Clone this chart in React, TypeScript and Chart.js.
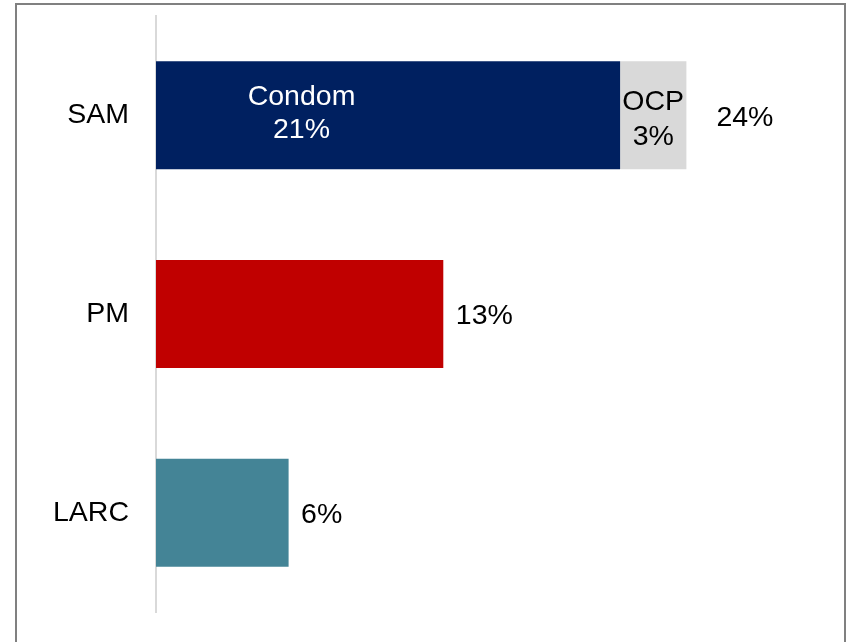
import React, { useEffect, useRef } from "react";
import { Chart, registerables } from "chart.js";

Chart.register(...registerables);

const categories = ["SAM", "PM", "LARC"];
const primaryValues = [21, 13, 6];
const ocpValues = [3, null, null];
const primaryNames = ["Condom", null, null];
const ocpNames = ["OCP", null, null];
const totals = [24, 13, 6];
const primaryColors = ["#002060", "#C00000", "#448496"];
const ocpColor = "#D9D9D9";

const FONT = "Liberation Sans, Arial, sans-serif";
const FS = 28.5;

const labelPlugin = {
  id: "barLabels",
  afterDatasetsDraw(chart: any) {
    const ctx = chart.ctx;
    const m0 = chart.getDatasetMeta(0);
    const m1 = chart.getDatasetMeta(1);
    ctx.save();
    ctx.font = `${FS}px ${FONT}`;
    ctx.textBaseline = "middle";
    categories.forEach((_, i) => {
      const b0 = m0.data[i];
      const b1 = m1.data[i];
      const y = b0.y + 2;
      let end = b0.x;
      if (primaryNames[i]) {
        const cx = b0.base + (b0.x - b0.base) * 0.3136;
        ctx.fillStyle = "#FFFFFF";
        ctx.textAlign = "center";
        ctx.fillText(primaryNames[i], cx, y - 20);
        ctx.fillText(primaryValues[i] + "%", cx, y + 13);
      }
      const hasOcp = ocpValues[i] != null;
      if (hasOcp && b1) {
        end = b1.x;
        const cx = (b1.base + b1.x) / 2;
        ctx.fillStyle = "#000000";
        ctx.textAlign = "center";
        ctx.fillText(ocpNames[i] as string, cx, y - 15);
        ctx.fillText(ocpValues[i] + "%", cx, y + 19.5);
      }
      ctx.fillStyle = "#000000";
      ctx.textAlign = "left";
      ctx.fillText(totals[i] + "%", end + (hasOcp ? 30 : 12.5), y + 0.5);
    });
    ctx.restore();
  },
};

export default function App() {
  const ref = useRef<HTMLCanvasElement>(null);
  useEffect(() => {
    document.body.style.overflow = "hidden";
    const chart = new Chart(ref.current as HTMLCanvasElement, {
      type: "bar",
      data: {
        labels: categories,
        datasets: [
          {
            label: "Primary",
            data: primaryValues,
            backgroundColor: primaryColors,
            borderWidth: 0,
            barPercentage: 0.5436,
            categoryPercentage: 1,
          },
          {
            label: "OCP",
            data: ocpValues as any,
            backgroundColor: ocpColor,
            borderWidth: 0,
            barPercentage: 0.5436,
            categoryPercentage: 1,
          },
        ],
      },
      options: {
        indexAxis: "y",
        responsive: false,
        animation: false,
        devicePixelRatio: 1,
        layout: { padding: { left: 0, top: 16, bottom: 30, right: 27 } },
        plugins: {
          legend: { display: false },
          tooltip: { enabled: false },
        },
        scales: {
          x: {
            stacked: true,
            display: false,
            min: 0,
            max: 30,
          },
          y: {
            stacked: true,
            grid: { display: false, drawTicks: false },
            border: { display: true, color: "#D9D9D9", width: 2 },
            ticks: {
              color: "#000000",
              font: { family: FONT, size: FS },
              padding: 27,
            },
            afterFit: (scale: any) => {
              scale.width = 156;
              scale.paddingTop = 0;
              scale.paddingBottom = 0;
            },
          },
        },
      },
      plugins: [labelPlugin],
    });
    return () => chart.destroy();
  }, []);
  return (
    <div>
      <canvas
        ref={ref}
        width={846}
        height={642}
        style={{ position: "absolute", left: 0, top: 0, width: 846, height: 642 }}
      />
      <div
        style={{
          position: "absolute",
          left: 15,
          top: 3,
          width: 831,
          height: 639,
          boxSizing: "border-box",
          border: "2px solid #808080",
          borderBottom: "none",
          pointerEvents: "none",
        }}
      />
    </div>
  );
}
